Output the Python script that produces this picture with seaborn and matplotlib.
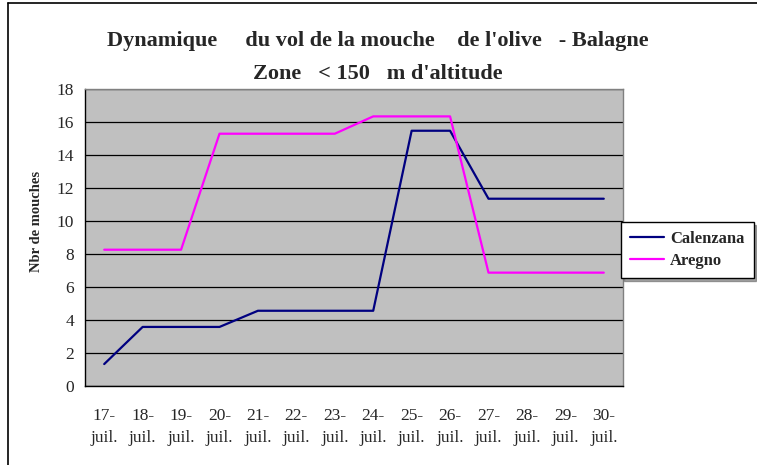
import matplotlib
matplotlib.use("Agg")
import matplotlib.pyplot as plt
import seaborn as sns
import pandas as pd
import numpy as np
from matplotlib.lines import Line2D
from matplotlib.ticker import FixedLocator, MultipleLocator

days = ["17-\njuil.", "18-\njuil.", "19-\njuil.", "20-\njuil.", "21-\njuil.", "22-\njuil.", "23-\njuil.",
        "24-\njuil.", "25-\njuil.", "26-\njuil.", "27-\njuil.", "28-\njuil.", "29-\njuil.", "30-\njuil."]
calenzana = [1.33, 3.58, 3.58, 3.58, 4.56, 4.56, 4.56, 4.56, 15.47, 15.47, 11.35, 11.35, 11.35, 11.35]
aregno = [8.26, 8.26, 8.26, 15.29, 15.29, 15.29, 15.29, 16.34, 16.34, 16.34, 6.87, 6.87, 6.87, 6.87]
series_names = ["Calenzana", "Aregno"]
colors = ["#000080", "#FF00FF"]

n = len(days)
df = pd.DataFrame({
    "idx": list(range(n)) * 2,
    "val": calenzana + aregno,
    "serie": [series_names[0]] * n + [series_names[1]] * n,
})

sns.set_style("white")
plt.rcParams["font.family"] = ["Liberation Serif", "DejaVu Serif"]

fig = plt.figure(figsize=(7.57, 4.65), dpi=100)
ax = fig.add_axes([85/757, 1-386/465, (623-85)/757, (386-89)/465])
ax.set_facecolor("#C0C0C0")

sns.lineplot(data=df, x="idx", y="val", hue="serie", palette=colors, ax=ax,
             linewidth=1.6, legend=False, zorder=3)

ax.set_xlim(-0.5, n - 0.5)
ax.set_ylim(0, 18)
ax.yaxis.set_major_locator(MultipleLocator(2))
ax.yaxis.grid(True, color="black", linewidth=0.9)
ax.xaxis.grid(False)
ax.set_axisbelow(True)

ax.set_xticks(range(n))
ax.set_xticklabels(days, fontsize=12.5, linespacing=1.45)
ax.xaxis.set_minor_locator(FixedLocator(np.arange(-0.5, n, 1.0)))
ax.tick_params(axis="x", which="major", length=0, pad=16)
ax.tick_params(axis="x", which="minor", length=5, width=1, color="black", direction="out")
ax.tick_params(axis="y", length=5, width=1, color="black", direction="out", labelsize=12.5, pad=3)

for s in ["top", "right"]:
    ax.spines[s].set_color("#808080")
    ax.spines[s].set_linewidth(1)
for s in ["left", "bottom"]:
    ax.spines[s].set_color("black")
    ax.spines[s].set_linewidth(1)

ax.set_xlabel("")
ax.set_ylabel("")
fig.text(37/757, 1 - 221/465, "Nbr de mouches", rotation=90, ha="center", va="center",
         fontsize=10.5, fontweight="bold")

fig.text(0.5 * (107 + 648) / 757, 1 - 41 / 465,
         "Dynamique     du vol de la mouche    de l'olive   - Balagne",
         ha="center", va="center", fontsize=16, fontweight="bold")
fig.text(0.5 * (107 + 648) / 757, 1 - 74 / 465,
         "Zone   < 150   m d'altitude",
         ha="center", va="center", fontsize=16, fontweight="bold")

handles = [Line2D([0], [0], color=c, linewidth=1.6) for c in colors]
leg = fig.legend(handles, series_names, loc="upper left",
                 bbox_to_anchor=(621/757, 1 - 222/465),
                 frameon=True, fancybox=False, shadow=True,
                 prop={"weight": "bold", "size": 12, "family": "Liberation Serif"},
                 handlelength=2.0, borderpad=0.55, labelspacing=0.35, handletextpad=0.4,
                 borderaxespad=0)
leg.get_frame().set_edgecolor("black")
leg.get_frame().set_linewidth(1)

fig.add_artist(Line2D([8/757, 8/757], [0, 1 - 3/465], color="black", linewidth=1.2,
                      transform=fig.transFigure))
fig.add_artist(Line2D([8/757, 1], [1 - 3/465, 1 - 3/465], color="black", linewidth=1.2,
                      transform=fig.transFigure))

fig.savefig("out.png", dpi=100)
